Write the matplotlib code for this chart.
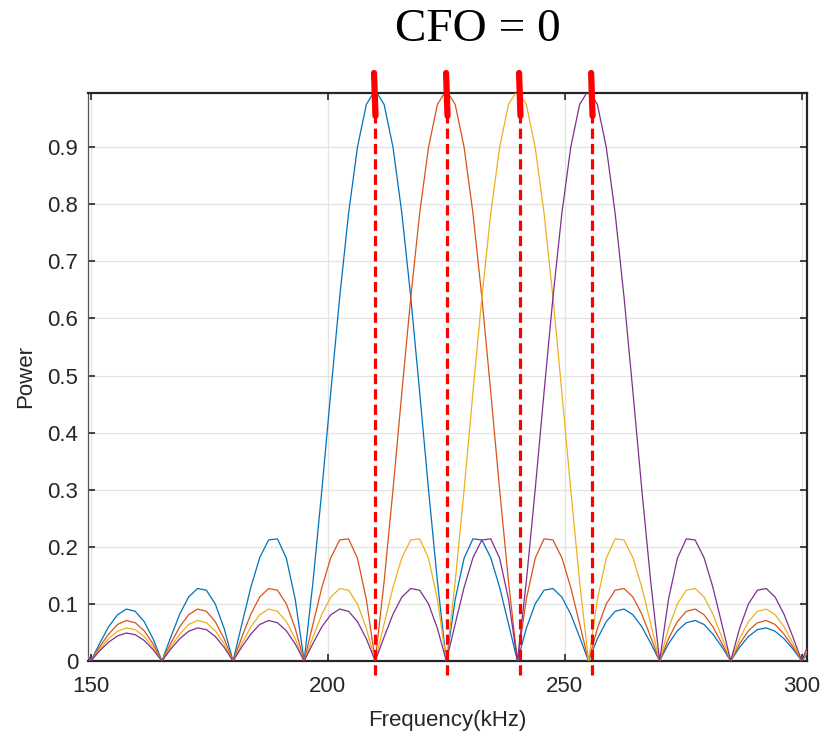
import matplotlib
matplotlib.use("Agg")
import matplotlib.pyplot as plt

########## data #####################################################################
# sample grid (kHz), 1.875 kHz spacing
freq_khz = [148.125,
            150.0, 151.875, 153.75, 155.625, 157.5, 159.375, 161.25, 163.125,
            165.0, 166.875, 168.75, 170.625, 172.5, 174.375, 176.25, 178.125,
            180.0, 181.875, 183.75, 185.625, 187.5, 189.375, 191.25, 193.125,
            195.0, 196.875, 198.75, 200.625, 202.5, 204.375, 206.25, 208.125,
            210.0, 211.875, 213.75, 215.625, 217.5, 219.375, 221.25, 223.125,
            225.0, 226.875, 228.75, 230.625, 232.5, 234.375, 236.25, 238.125,
            240.0, 241.875, 243.75, 245.625, 247.5, 249.375, 251.25, 253.125,
            255.0, 256.875, 258.75, 260.625, 262.5, 264.375, 266.25, 268.125,
            270.0, 271.875, 273.75, 275.625, 277.5, 279.375, 281.25, 283.125,
            285.0, 286.875, 288.75, 290.625, 292.5, 294.375, 296.25, 298.125,
            300.0, 301.875]

power_sc1 = [.030, 0, .031, .060, .081, .091, .087, .069, .039,
             0, .042, .082, .112, .127, .124, .100, .057,
             0, .065, .129, .181, .212, .214, .180, .108,
             0, .139, .300, .471, .637, .784, .900, .975,
             1.0, .975, .900, .784, .637, .471, .300, .139,
             0, .108, .180, .214, .212, .181, .129, .065,
             0, .057, .100, .124, .127, .112, .082, .042,
             0, .039, .069, .087, .091, .081, .060, .031,
             0, .030, .053, .067, .071, .064, .047, .025,
             0, .024, .043, .055, .058, .052, .039, .021,
             0, .020]

power_sc2 = [.024, 0, .025, .047, .064, .071, .067, .053, .030,
             0, .031, .060, .081, .091, .087, .069, .039,
             0, .042, .082, .112, .127, .124, .100, .057,
             0, .065, .129, .181, .212, .214, .180, .108,
             0, .139, .300, .471, .637, .784, .900, .975,
             1.0, .975, .900, .784, .637, .471, .300, .139,
             0, .108, .180, .214, .212, .181, .129, .065,
             0, .057, .100, .124, .127, .112, .082, .042,
             0, .039, .069, .087, .091, .081, .060, .031,
             0, .030, .053, .067, .071, .064, .047, .025,
             0, .024]

power_sc3 = [.020, 0, .021, .039, .052, .058, .055, .043, .024,
             0, .025, .047, .064, .071, .067, .053, .030,
             0, .031, .060, .081, .091, .087, .069, .039,
             0, .042, .082, .112, .127, .124, .100, .057,
             0, .065, .129, .181, .212, .214, .180, .108,
             0, .139, .300, .471, .637, .784, .900, .975,
             1.0, .975, .900, .784, .637, .471, .300, .139,
             0, .108, .180, .214, .212, .181, .129, .065,
             0, .057, .100, .124, .127, .112, .082, .042,
             0, .039, .069, .087, .091, .081, .060, .031,
             0, .030]

power_sc4 = [.017, 0, .018, .033, .044, .049, .046, .036, .020,
             0, .021, .039, .052, .058, .055, .043, .024,
             0, .025, .047, .064, .071, .067, .053, .030,
             0, .031, .060, .081, .091, .087, .069, .039,
             0, .042, .082, .112, .127, .124, .100, .057,
             0, .065, .129, .181, .212, .214, .180, .108,
             0, .139, .300, .471, .637, .784, .900, .975,
             1.0, .975, .900, .784, .637, .471, .300, .139,
             0, .108, .180, .214, .212, .181, .129, .065,
             0, .057, .100, .124, .127, .112, .082, .042,
             0, .039]

# hand-drawn red markers at the subcarrier peaks (kHz)
marker_khz = [210.0, 225.2, 240.6, 255.8]

x_ticks = [150, 200, 250, 300]
y_ticks = [0, 0.1, 0.2, 0.3, 0.4, 0.5, 0.6, 0.7, 0.8, 0.9]
y_ticklabels = ["0", "0.1", "0.2", "0.3", "0.4", "0.5", "0.6", "0.7", "0.8", "0.9"]

########## plot ####################################################################
plt.rcParams["font.family"] = ["Liberation Sans", "DejaVu Sans"]
matlab_colors = ["#0072BD", "#D95319", "#EDB120", "#7E2F8E"]
axcol = "#262626"

fig = plt.figure(figsize=(8.21, 7.34), dpi=100)
ax = fig.add_axes([88/821, 1-661/734, (807-88)/821, (661-93)/734])

for yy, c in zip([power_sc1, power_sc2, power_sc3, power_sc4], matlab_colors):
    ax.plot(freq_khz, yy, color=c, linewidth=0.9, zorder=3)

ax.set_xlim(149.4, 301.1)
ax.set_ylim(0, 0.995)
ax.set_xticks(x_ticks)
ax.set_yticks(y_ticks)
ax.set_yticklabels(y_ticklabels)
ax.grid(True, color="#e3e3e3", linewidth=0.9, zorder=0)
ax.set_axisbelow(True)
ax.tick_params(direction="in", length=5, width=1.2, colors=axcol, labelsize=16,
               top=True, right=True)
ax.tick_params(axis="x", pad=11)
ax.tick_params(axis="y", pad=7)
for s in ["top", "bottom", "right"]:
    ax.spines[s].set_linewidth(1.6)
    ax.spines[s].set_color(axcol)
ax.spines["left"].set_linewidth(0.9)
ax.spines["left"].set_color("#555555")

ax.set_xlabel("Frequency(kHz)", fontsize=16, color=axcol, labelpad=9)
ax.set_ylabel("Power", fontsize=16, color=axcol, labelpad=8)

# red dashed markers + squiggles
for xm in marker_khz:
    ax.plot([xm, xm], [-0.025, 0.99], color="red", linewidth=2.3,
            dashes=(3.2, 1.6), clip_on=False, zorder=5)
    ax.plot([xm - 0.25, xm + 0.05], [1.03, 0.955], color="red", linewidth=4.5,
            solid_capstyle="round", clip_on=False, zorder=6)

fig.text(478/821, 1-30/734, "CFO = 0", family=["Liberation Serif", "DejaVu Serif"],
         fontsize=34, ha="center", va="center", color="black")

fig.savefig("out.png", dpi=100)
